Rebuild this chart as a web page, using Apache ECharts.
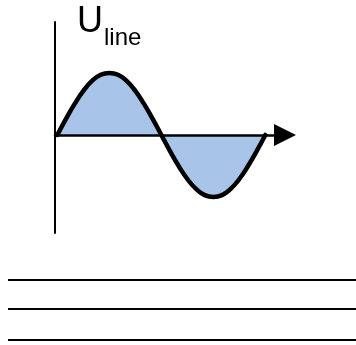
<!DOCTYPE html>
<html>
<head>
<meta charset="utf-8">
<script src="https://cdn.jsdelivr.net/npm/echarts@6/dist/echarts.min.js"></script>
<style>
  html, body { margin: 0; padding: 0; background: #fff; }
  #chart { width: 356px; height: 345px; }
</style>
</head>
<body>
<div id="chart"></div>
<script>
// phase angle (degrees) and line voltage (peak = 1)
const angles = [0, 15, 30, 45, 60, 75, 90, 105, 120, 135, 150, 165, 180,
  195, 210, 225, 240, 255, 270, 285, 300, 315, 330, 345, 360]
const voltage = [0, 0.26, 0.5, 0.71, 0.87, 0.97, 1, 0.97, 0.87, 0.71, 0.5, 0.26, 0,
  -0.26, -0.5, -0.71, -0.87, -0.97, -1, -0.97, -0.87, -0.71, -0.5, -0.26, 0]
const axisTitle = 'U'
const axisSub = 'line'

const chart = echarts.init(document.getElementById('chart'), null, { renderer: 'canvas' })

const option = {
  animation: false,
  grid: { left: 55, right: 71, top: 22, bottom: 112 },
  xAxis: {
    type: 'value',
    min: -4,
    max: 394,
    z: 3,
    splitLine: { show: false },
    axisTick: { show: false },
    axisLabel: { show: false },
    axisLine: {
      onZero: true,
      symbol: ['none', 'triangle'],
      symbolSize: [22, 22],
      lineStyle: { color: '#000', width: 2.5 }
    }
  },
  yAxis: {
    type: 'value',
    min: -1.58,
    max: 1.82,
    splitLine: { show: false },
    axisTick: { show: false },
    axisLabel: { show: false },
    axisLine: {
      show: true,
      onZero: false,
      lineStyle: { color: '#000', width: 2 }
    }
  },
  series: [{
    type: 'line',
    data: angles.map((a, i) => [a, voltage[i]]),
    smooth: true,
    showSymbol: false,
    lineStyle: { color: '#000', width: 4.5, cap: 'round', join: 'round' },
    areaStyle: { color: '#a8c4e8', opacity: 1, origin: 0 }
  }],
  graphic: [
    {
      type: 'text', left: 77, top: 4,
      style: { text: axisTitle, font: '36px "Liberation Sans", Arial, sans-serif', fill: '#000' }
    },
    {
      type: 'text', left: 104, top: 26,
      style: { text: axisSub, font: '24px "Liberation Sans", Arial, sans-serif', fill: '#000' }
    },
    { type: 'line', shape: { x1: 8, y1: 280, x2: 356, y2: 280 }, style: { stroke: '#000', lineWidth: 2 } },
    { type: 'line', shape: { x1: 8, y1: 309, x2: 356, y2: 309 }, style: { stroke: '#000', lineWidth: 2 } },
    { type: 'line', shape: { x1: 8, y1: 340, x2: 356, y2: 340 }, style: { stroke: '#000', lineWidth: 2 } }
  ]
}

chart.setOption(option)
</script>
</body>
</html>
